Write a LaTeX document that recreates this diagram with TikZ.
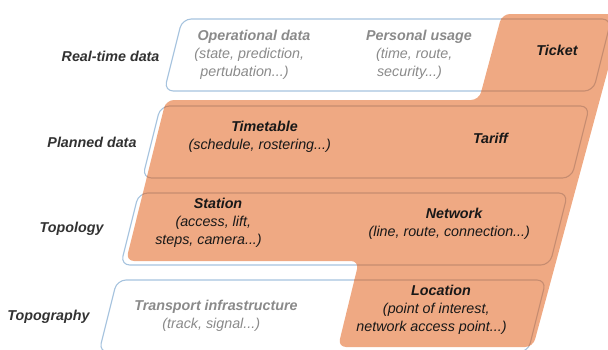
\documentclass[tikz,border=0pt]{standalone}
\usepackage{fontspec}
\setmainfont{Liberation Sans}
\definecolor{layerline}{RGB}{166,195,222}
\definecolor{layerfill}{RGB}{239,169,131}
\definecolor{layeredge}{RGB}{198,140,112}
\definecolor{greytext}{RGB}{138,138,138}
\definecolor{darktext}{RGB}{24,24,24}
\definecolor{sidetext}{RGB}{50,50,50}
% one slanted band between two heights
\newcommand{\bandshape}[2]{({187-0.25*(#1)},#1) -- ({616-0.25*(#1)},#1) -- ({616-0.25*(#2)},#2) -- ({187-0.25*(#2)},#2) -- cycle}
% the shaded area over the bands
\newcommand{\orangearea}{(502,14) -- (623,14) -- (533,347) -- (338,347) -- (359,261) -- (126,261) -- (166,100) -- (479,100) -- cycle}
\newcommand{\lineshift}[1]{\rule{#1}{0pt}}
\begin{document}
\begin{tikzpicture}[x=1pt,y=-1pt,line join=round,
  every node/.style={font=\fontsize{14.3}{18}\selectfont\itshape,align=center},
  side/.style={anchor=east,text=sidetext,font=\fontsize{14.3}{18}\selectfont\bfseries\itshape},
  faint/.style={text=greytext},
  onfill/.style={text=darktext}]
  \useasboundingbox (0,0) rectangle (608,349);
  \clip (0,0) rectangle (608,349);
  \foreach \t/\b in {19/91,106/178,193/265,280/352}
    \draw[layerline,line width=1.1pt,rounded corners=9] \bandshape{\t}{\b};
  \fill[layerfill,rounded corners=8] \orangearea;
  \begin{scope}
    \clip[rounded corners=8] \orangearea;
    \foreach \t/\b in {19/91,106/178,193/265,280/352}
      \draw[layeredge,line width=1.1pt,rounded corners=9] \bandshape{\t}{\b};
  \end{scope}
  % layer names
  \node[side] (rt) at (163,56) {Real-time data};
  \node[side] (pd) at (140,142) {Planned data};
  \node[side] (tp) at (107,229) {Topology};
  \node[side] (tg) at (93,317) {Topography};
  % contents
  \node[faint] (oper) at (254,55) {\textbf{Operational data}\\(state, prediction,\lineshift{9.5pt}\\pertubation...)\lineshift{19pt}};
  \node[faint] (pers) at (419,55) {\textbf{Personal usage}\\(time, route,\lineshift{9.5pt}\\security...)\lineshift{19pt}};
  \node[onfill,font=\fontsize{14.3}{18}\selectfont\bfseries\itshape] (ticket) at (557,50) {Ticket};
  \node[onfill] (timet) at (264.5,136.5) {\textbf{Timetable}\\(schedule, rostering...)\lineshift{9.5pt}};
  \node[onfill,font=\fontsize{14.3}{18}\selectfont\bfseries\itshape] (tariff) at (490.5,138) {Tariff};
  \node[onfill] (station) at (218,223) {\textbf{Station}\\(access, lift,\lineshift{9.5pt}\\steps, camera...)\lineshift{19pt}};
  \node[onfill] (network) at (454,223.5) {\textbf{Network}\\(line, route, connection...)\lineshift{9.5pt}};
  \node[faint] (infra) at (216,315.5) {\textbf{Transport infrastructure}\\(track, signal...)\lineshift{9.5pt}};
  \node[onfill] (location) at (441,310) {\textbf{Location}\\(point of interest,\lineshift{9.5pt}\\network access point...)\lineshift{19pt}};
\end{tikzpicture}
\end{document}
